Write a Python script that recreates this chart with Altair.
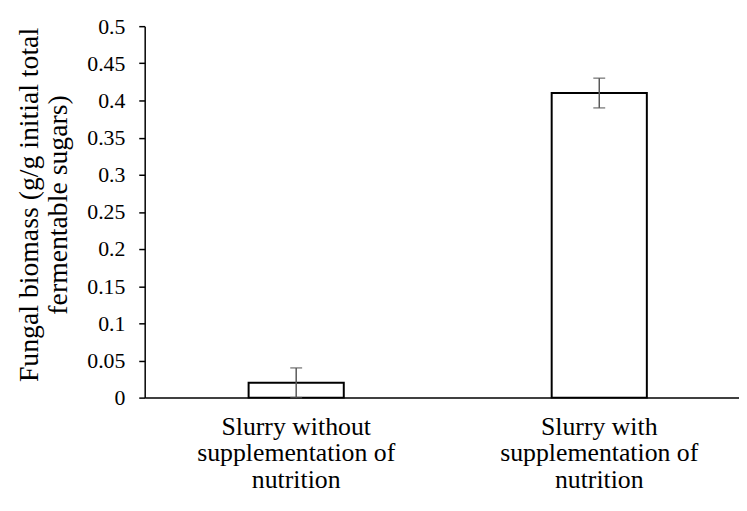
import altair as alt
import pandas as pd

categories = ["Slurry without\nsupplementation of\nnutrition",
              "Slurry with\nsupplementation of\nnutrition"]
values = [0.02, 0.41]
errors = [0.02, 0.02]
y_ticks = [0, 0.05, 0.1, 0.15, 0.2, 0.25, 0.3, 0.35, 0.4, 0.45, 0.5]

df = pd.DataFrame({"cat": categories, "val": values, "err": errors})
df["lo"] = df["val"] - df["err"]
df["hi"] = df["val"] + df["err"]

FONT = "Liberation Serif"
Y_TITLE = ["Fungal biomass (g/g initial total", "fermentable sugars)"]

xscale = alt.Scale(domain=categories, paddingInner=0.686, paddingOuter=0.3235, align=0.53)
yscale = alt.Scale(domain=[0, 0.5])

base = alt.Chart(df)

bars = base.mark_bar(fill="white", stroke="black", strokeWidth=2).encode(
    x=alt.X("cat:N", sort=categories, scale=xscale,
            axis=alt.Axis(title=None, labelExpr="split(datum.label, '\\n')")),
    y=alt.Y("val:Q", scale=yscale,
            axis=alt.Axis(title=Y_TITLE, values=y_ticks, format=".2~f",
                          tickCount=len(y_ticks), labelOverlap=False, titleY=180)))

xn = alt.X("cat:N", sort=categories)

rules = base.mark_rule(color="#595959", strokeWidth=1.5).encode(
    x=xn, y="lo:Q", y2="hi:Q")

caps_lo = base.mark_tick(color="#595959", size=12, thickness=1.5).encode(
    x=xn, y="lo:Q")
caps_hi = base.mark_tick(color="#595959", size=12, thickness=1.5).encode(
    x=xn, y="hi:Q")

chart = alt.layer(bars, rules, caps_lo, caps_hi).properties(
    width=600, height=375,
    autosize=alt.AutoSizeParams(type="none"),
    padding={"left": 138, "top": 16, "right": 0, "bottom": 100},
    background="white",
).configure_view(stroke=None).configure_axis(
    labelFont=FONT, titleFont=FONT, labelColor="black", titleColor="black",
    grid=False, domainColor="black", domainWidth=1.5,
    titleFontWeight="normal",
).configure_axisX(
    labelAngle=0, ticks=False, labelFontSize=26, labelLineHeight=27,
    labelPadding=16, labelLimit=0,
).configure_axisY(
    labelFontSize=22, labelPadding=14, tickSize=6, tickColor="black", tickWidth=1.5,
    titleFontSize=28, titlePadding=14, titleLineHeight=30,
    labelOverlap=False, tickCount=11,
)

chart.save("out.html", embed_options={"renderer": "svg", "actions": False})
